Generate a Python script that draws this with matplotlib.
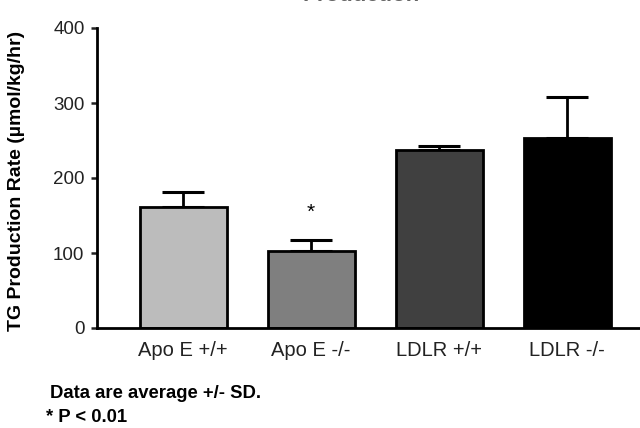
import matplotlib
matplotlib.use("Agg")
from matplotlib import pyplot as plt

plt.rcParams['font.family'] = ['Liberation Sans', 'DejaVu Sans']

groups = ["Apo E +/+", "Apo E -/-", "LDLR +/+", "LDLR -/-"]
rates = [161, 103, 237, 254]
sd = [20, 15, 6, 54]
colors = ["#bcbcbc", "#7f7f7f", "#404040", "#000000"]
y_ticks = [0, 100, 200, 300, 400]

fig = plt.figure(figsize=(6.4, 4.28), dpi=100)
ax = fig.add_axes([97 / 640, 100 / 428, 547 / 640, 300 / 428])

x = list(range(len(groups)))
ax.bar(x, rates, width=0.68, color=colors, edgecolor="black", linewidth=2.0, zorder=2)
ax.errorbar(x, rates, yerr=[[0] * len(sd), sd], fmt="none", ecolor="black",
            elinewidth=2.0, capsize=15, capthick=2.2, zorder=1)

# significance mark over Apo E -/-
ax.text(1, rates[1] + sd[1] + 36, "*", ha="center", va="center", fontsize=15)

ax.set_xlim(-0.672, 3.6)
ax.set_ylim(0, 400)
ax.set_yticks(y_ticks)
ax.set_xticks(x)
ax.set_xticklabels(groups, fontsize=14.5, color="#222222")
ax.tick_params(axis="y", labelsize=13.5, colors="#222222", length=4, width=1.8, direction="out", pad=5)
ax.tick_params(axis="x", length=0, pad=9)
for s in ["top", "right"]:
    ax.spines[s].set_visible(False)
for s in ["left", "bottom"]:
    ax.spines[s].set_linewidth(2.0)

ax.set_ylabel("TG Production Rate (µmol/kg/hr)", fontsize=14, fontweight="bold")
ax.yaxis.set_label_coords(-0.131, 0.49)

# title sits mostly above the top edge, as in the original
fig.text(361 / 640, 1 - 1.2 / 428, "Production", ha="center", va="baseline",
         fontsize=16, fontweight="bold", color="#666666")
fig.text(50 / 640, 1 - 398 / 428, "Data are average +/- SD.", fontsize=13.3,
         fontweight="bold", va="baseline")
fig.text(46 / 640, 1 - 422 / 428, "* P < 0.01", fontsize=13.3,
         fontweight="bold", va="baseline")

fig.savefig("out.png", dpi=100)
